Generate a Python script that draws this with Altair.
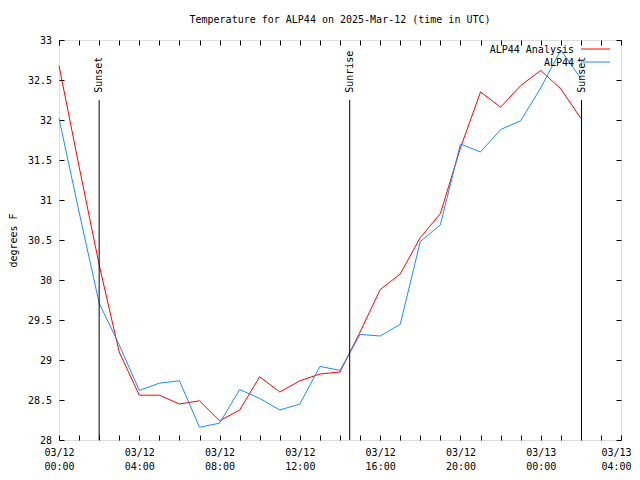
import altair as alt
import pandas as pd
from datetime import datetime, timedelta, timezone

# ---- data ----
hours = list(range(27))  # hourly from 2025-03-12 00:00 UTC
analysis = [32.68, 31.42, 30.19, 29.10, 28.56, 28.56, 28.45, 28.49, 28.24, 28.375,
            28.79, 28.60, 28.74, 28.825, 28.85, 29.35, 29.88, 30.075, 30.53, 30.83,
            31.65, 32.35, 32.16, 32.43, 32.62, 32.39, 32.02]
observed = [32.02, 30.85, 29.71, 29.19, 28.62, 28.71, 28.74, 28.16, 28.21, 28.63,
            28.52, 28.375, 28.45, 28.92, 28.87, 29.32, 29.30, 29.445, 30.48, 30.69,
            31.70, 31.60, 31.88, 31.99, 32.40, 32.875, 32.52]
series_names = ["ALP44 Analysis", "ALP44"]
series_colors = ["#ff0000", "#1a8cff"]
event_times = ["2025-03-12T02:00:00Z", "2025-03-12T14:29:00Z", "2025-03-13T02:02:00Z"]
event_labels = ["Sunset", "Sunrise", "Sunset"]
y_ticks = [28.0, 28.5, 29.0, 29.5, 30.0, 30.5, 31.0, 31.5, 32.0, 32.5, 33.0]
x_tick_hours = list(range(29))
title_text = "Temperature for ALP44 on 2025-Mar-12 (time in UTC)"
y_title = "degrees F"

FONT = "DejaVu Sans Mono"
start = datetime(2025, 3, 12, tzinfo=timezone.utc)
start_ms = int(start.timestamp() * 1000)
tick_ms = [start_ms + h * 3600000 for h in x_tick_hours]
domain_x = [tick_ms[0], tick_ms[-1]]
end_test = f"time(datum.value) >= {tick_ms[-1] - 1000}"


def iso(h):
    return (start + timedelta(hours=h)).strftime("%Y-%m-%dT%H:%M:%SZ")


rows = []
for h, a, o in zip(hours, analysis, observed):
    rows.append({"time": iso(h), "value": a, "series": series_names[0]})
    rows.append({"time": iso(h), "value": o, "series": series_names[1]})
df = pd.DataFrame(rows)
events = pd.DataFrame({"time": event_times, "label": event_labels})

xscale = alt.Scale(type="utc", domain=domain_x)
yscale = alt.Scale(domain=[28, 33], nice=False, zero=False)
cscale = alt.Scale(domain=series_names, range=series_colors)

common_axis = dict(tickSize=5, offset=-5, domain=False, grid=False, tickColor="black",
                   labelColor="black", labelFont=FONT, labelFontSize=10)

x_bottom = alt.Axis(orient="bottom", values=tick_ms, title=None, labelAngle=0,
                    labelOverlap=False, labelFlush=False, labelPadding=7, labelLineHeight=14,
                    labelBound=False,
                    labelAlign={"condition": {"test": end_test, "value": "right"}, "value": "center"},
                    labelOffset={"condition": {"test": end_test, "value": 10}, "value": 0},
                    labelExpr="utchours(datum.value) % 4 == 0 ? [utcFormat(datum.value, '%m/%d'), utcFormat(datum.value, '%H:%M')] : ''",
                    **common_axis)
y_left = alt.Axis(orient="left", values=y_ticks, format=".1~f", labelPadding=7.5,
                  title=y_title, titleFont=FONT, titleFontSize=10, titleFontWeight="normal",
                  titleColor="black", titlePadding=9, **common_axis)
x_top = alt.Axis(orient="top", values=tick_ms, labels=False, title=None, **common_axis)
y_right = alt.Axis(orient="right", values=y_ticks, labels=False, title=None, **common_axis)

lines = alt.Chart(df).mark_line(strokeWidth=1).encode(
    x=alt.X("time:T", scale=xscale, axis=x_bottom),
    y=alt.Y("value:Q", scale=yscale, axis=y_left),
    color=alt.Color("series:N", scale=cscale, legend=None),
)

ghost = alt.Chart(df).mark_line(opacity=0).encode(
    x=alt.X("time:T", scale=xscale, axis=x_top),
    y=alt.Y("value:Q", scale=yscale, axis=y_right),
    detail="series:N",
)

rules = alt.Chart(events).mark_rule(color="black", strokeWidth=1).encode(
    x=alt.X("time:T", axis=None),
    y=alt.YDatum(28, axis=None),
    y2=alt.Y2Datum(32.25),
)

labels = alt.Chart(events).mark_text(angle=270, align="left", baseline="middle",
                                     font=FONT, fontSize=10, color="black").encode(
    x=alt.X("time:T", axis=None),
    y=alt.YDatum(32.34, axis=None),
    text="label:N",
)

legend_layers = []
for i, name in enumerate(series_names):
    ld = pd.DataFrame({"series": [name]})
    legend_layers.append(
        alt.Chart(ld).mark_text(align="right", baseline="middle", font=FONT, fontSize=10,
                                color="black").encode(
            x=alt.value(515), y=alt.value(10 + 13 * i), text="series:N"))
    legend_layers.append(
        alt.Chart(ld).mark_rule(strokeWidth=1).encode(
            x=alt.value(522), x2=alt.value(551), y=alt.value(9 + 13 * i),
            color=alt.Color("series:N", scale=cscale, legend=None)))

chart = alt.layer(lines, ghost, rules, labels, *legend_layers).resolve_axis(
    x="independent", y="independent"
).properties(
    width=562, height=400,
    title=alt.TitleParams(title_text, font=FONT, fontSize=10, fontWeight="normal",
                          anchor="middle", offset=10, color="black"),
    autosize=alt.AutoSizeParams(type="none"),
    padding={"left": 51, "top": 32, "right": 11, "bottom": 32},
).configure_view(stroke="black", strokeWidth=1).configure(background="white")

chart.save("out.html", embed_options={"renderer": "svg", "actions": False})
